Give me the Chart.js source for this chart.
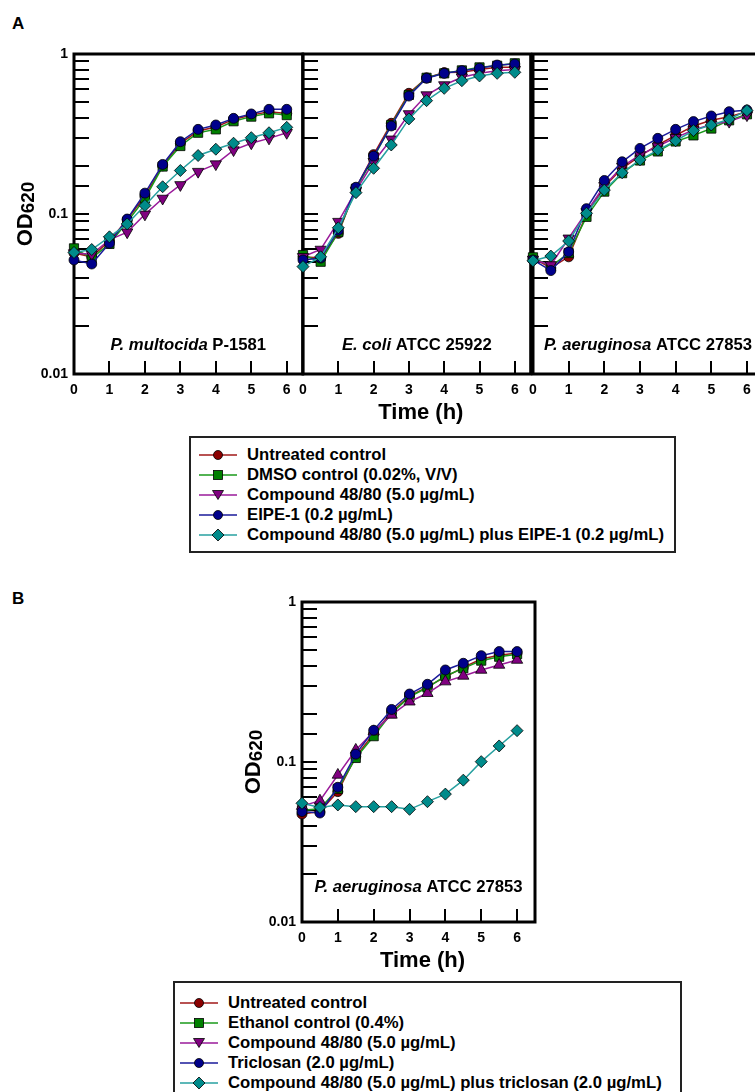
<!DOCTYPE html>
<html>
<head>
<meta charset="utf-8">
<script src="https://cdn.jsdelivr.net/npm/chart.js@4.4.1/dist/chart.umd.min.js"></script>
<style>
    html, body { margin: 0; padding: 0; background: #fff; }
    body { width: 755px; height: 1092px; overflow: hidden; position: relative;
           font-family: "Liberation Sans", Arial, sans-serif; color: #000; }
    canvas { position: absolute; }
    .tag { position: absolute; font-weight: bold; font-size: 17px; line-height: 1; }
    .legend { position: absolute; border: 2px solid #222; box-sizing: border-box; }
    .row { display: flex; align-items: center; height: 20px; font-weight: bold;
           font-size: 16.7px; white-space: nowrap; }
    .row svg { flex: none; margin-right: 10px; }
</style>
</head>
<body>
<div class="tag" style="left:12px; top:15px;">A</div>
<div class="tag" style="left:12px; top:590px;">B</div>

<canvas id="chart-pm"></canvas>
<canvas id="chart-ec"></canvas>
<canvas id="chart-pa"></canvas>
<canvas id="chart-tri"></canvas>

<div id="legend-a" class="legend" style="left:189px; top:436px; width:487px; height:117px; padding:7px 0 0 8px;"></div>
<div id="legend-b" class="legend" style="left:173px; top:981px; width:509px; height:130px; padding:10px 0 0 5px;"></div>

<script>
// ---- Data (OD620) -----------------------------------------------------
const hours = [0, 0.5, 1, 1.5, 2, 2.5, 3, 3.5, 4, 4.5, 5, 5.5, 6];

// Panel A: P. multocida P-1581
const pmUntreated = [0.057, 0.054, 0.068, 0.092, 0.130, 0.200, 0.276, 0.330, 0.350, 0.390, 0.415, 0.435, 0.425];
const pmDmso      = [0.061, 0.053, 0.065, 0.089, 0.125, 0.198, 0.266, 0.322, 0.338, 0.380, 0.406, 0.426, 0.415];
const pmCompound  = [0.057, 0.056, 0.069, 0.077, 0.0995, 0.125, 0.152, 0.184, 0.205, 0.251, 0.277, 0.297, 0.322];
const pmEipe      = [0.0516, 0.0487, 0.0656, 0.093, 0.135, 0.204, 0.283, 0.338, 0.360, 0.396, 0.422, 0.451, 0.451];
const pmCombo     = [0.0575, 0.060, 0.072, 0.0866, 0.113, 0.148, 0.187, 0.232, 0.254, 0.277, 0.300, 0.322, 0.348];

// Panel A: E. coli ATCC 25922
const ecUntreated = [0.054, 0.053, 0.0757, 0.145, 0.235, 0.369, 0.568, 0.710, 0.765, 0.770, 0.800, 0.825, 0.825];
const ecDmso      = [0.0554, 0.0503, 0.077, 0.144, 0.225, 0.360, 0.555, 0.710, 0.757, 0.790, 0.825, 0.845, 0.875];
const ecCompound  = [0.054, 0.060, 0.0896, 0.140, 0.212, 0.293, 0.422, 0.554, 0.640, 0.715, 0.757, 0.787, 0.800];
const ecEipe      = [0.0516, 0.053, 0.079, 0.147, 0.230, 0.355, 0.546, 0.705, 0.757, 0.787, 0.815, 0.853, 0.866];
const ecCombo     = [0.0469, 0.054, 0.082, 0.136, 0.193, 0.270, 0.393, 0.511, 0.610, 0.681, 0.729, 0.757, 0.768];

// Panel A: P. aeruginosa ATCC 27853
const paUntreated = [0.053, 0.046, 0.054, 0.100, 0.148, 0.193, 0.230, 0.270, 0.310, 0.355, 0.385, 0.405, 0.435];
const paDmso      = [0.0536, 0.047, 0.057, 0.096, 0.138, 0.180, 0.216, 0.246, 0.284, 0.310, 0.342, 0.385, 0.420];
const paCompound  = [0.052, 0.048, 0.0705, 0.103, 0.150, 0.198, 0.234, 0.265, 0.300, 0.335, 0.363, 0.378, 0.415];
const paEipe      = [0.0516, 0.0443, 0.058, 0.108, 0.162, 0.212, 0.257, 0.297, 0.338, 0.378, 0.410, 0.436, 0.447];
const paCombo     = [0.051, 0.0546, 0.0678, 0.101, 0.141, 0.181, 0.218, 0.251, 0.287, 0.332, 0.360, 0.391, 0.443];

// Panel B: P. aeruginosa ATCC 27853 with triclosan
const triUntreated = [0.0473, 0.049, 0.0653, 0.108, 0.150, 0.205, 0.258, 0.295, 0.340, 0.390, 0.440, 0.465, 0.480];
const triEthanol   = [0.050, 0.051, 0.068, 0.106, 0.145, 0.202, 0.255, 0.292, 0.345, 0.385, 0.430, 0.455, 0.472];
const triCompound  = [0.053, 0.0573, 0.083, 0.119, 0.155, 0.197, 0.238, 0.269, 0.318, 0.345, 0.376, 0.404, 0.434];
const triTriclosan = [0.049, 0.048, 0.0695, 0.112, 0.158, 0.213, 0.266, 0.306, 0.376, 0.414, 0.462, 0.490, 0.490];
const triCombo     = [0.0552, 0.052, 0.0539, 0.0526, 0.0526, 0.0526, 0.0506, 0.0565, 0.063, 0.077, 0.1005, 0.126, 0.157];

const legendNamesA = [
    "Untreated control",
    "DMSO control (0.02%, V/V)",
    "Compound 48/80 (5.0 µg/mL)",
    "EIPE-1 (0.2 µg/mL)",
    "Compound 48/80 (5.0 µg/mL) plus EIPE-1 (0.2 µg/mL)",
];
const legendNamesB = [
    "Untreated control",
    "Ethanol control (0.4%)",
    "Compound 48/80 (5.0 µg/mL)",
    "Triclosan (2.0 µg/mL)",
    "Compound 48/80 (5.0 µg/mL) plus triclosan (2.0 µg/mL)",
];

// ---- Styling ----------------------------------------------------------
const FONT = '"Liberation Sans", Arial, sans-serif';
const fillColors = ["#8b0000", "#008000", "#800080", "#00008b", "#008b8b"];
const lineColors = ["#a01818", "#1a9a1a", "#9a1a9a", "#1a1a9a", "#27a0a0"];
const shapes     = ["circle", "rect", "triangle", "circle", "rectRot"];
const radii      = [5, 6.5, 6.5, 5, 6];

function makeSets(lists, triangleRotation) {
    return lists.map((vals, i) => ({
        data: hours.map((h, k) => ({ x: h, y: vals[k] })),
        borderColor: lineColors[i],
        borderWidth: 1.5,
        pointBackgroundColor: fillColors[i],
        pointBorderColor: "#000",
        pointBorderWidth: 0.8,
        pointStyle: shapes[i],
        pointRadius: radii[i],
        pointRotation: i === 2 ? triangleRotation : 0,
        tension: 0,
        clip: false,
        order: 4 - i,   // teal on top, red at the bottom
    }));
}

// ---- Frame, inward ticks, titles --------------------------------------
const framePlugin = {
    id: "frame",
    beforeDatasetsDraw(chart, args, opts) {
        const { ctx, chartArea: a, scales: { x, y } } = chart;
        ctx.save();
        ctx.strokeStyle = "#000";
        ctx.lineWidth = 2;
        ctx.beginPath();
        y.ticks.forEach((t) => {
            if (t.value <= 0.0101 || t.value >= 0.99) return;
            const py = Math.round(y.getPixelForValue(t.value));
            ctx.moveTo(a.left, py);
            ctx.lineTo(a.left + 15, py);
        });
        x.ticks.forEach((t) => {
            if (t.value <= 0) return;
            const px = Math.round(x.getPixelForValue(t.value));
            ctx.moveTo(px, a.bottom);
            ctx.lineTo(px, a.bottom - 13);
        });
        ctx.stroke();
        ctx.lineWidth = 3;
        ctx.strokeRect(a.left, a.top, a.right - a.left, a.bottom - a.top);
        ctx.restore();
    },
    afterDraw(chart, args, opts) {
        const { ctx, chartArea: a } = chart;
        const cx = (a.left + a.right) / 2;
        ctx.save();
        ctx.fillStyle = "#000";
        ctx.textBaseline = "middle";

        // strain label: italic genus/species + plain strain id
        const [it, rest] = opts.strain;
        ctx.font = "italic bold 16.7px " + FONT;
        const w1 = ctx.measureText(it).width;
        ctx.font = "bold 16.7px " + FONT;
        const w2 = ctx.measureText(rest).width;
        const sx = cx - (w1 + w2) / 2;
        const sy = a.bottom - opts.strainDy;
        ctx.font = "italic bold 16.7px " + FONT;
        ctx.textAlign = "left";
        ctx.fillText(it, sx, sy);
        ctx.font = "bold 16.7px " + FONT;
        ctx.fillText(rest, sx + w1, sy);

        if (opts.xTitle) {
            ctx.font = "bold 22px " + FONT;
            ctx.textAlign = "center";
            ctx.fillText("Time (h)", cx + 4, a.bottom + 39);
        }
        if (opts.yTitle) {
            ctx.translate(a.left - 48, (a.top + a.bottom) / 2);
            ctx.rotate(-Math.PI / 2);
            ctx.font = "bold 22px " + FONT;
            const wOD = ctx.measureText("OD").width;
            ctx.font = "bold 19px " + FONT;
            const wSub = ctx.measureText("620").width;
            const x0 = -(wOD + wSub) / 2;
            ctx.textAlign = "left";
            ctx.font = "bold 22px " + FONT;
            ctx.fillText("OD", x0, 0);
            ctx.font = "bold 19px " + FONT;
            ctx.fillText("620", x0 + wOD, 3);
        }
        ctx.restore();
    },
};

function panelChart(id, box, area, sets, o) {
    const cv = document.getElementById(id);
    cv.width = box.w; cv.height = box.h;
    cv.style.left = box.x + "px"; cv.style.top = box.y + "px";
    cv.style.width = box.w + "px"; cv.style.height = box.h + "px";
    const yW = area.left - box.x;
    const xH = box.y + box.h - area.bottom;
    const near = (a, b) => Math.abs(a - b) < b * 1e-6;
    return new Chart(cv, {
        type: "line",
        data: { datasets: sets },
        options: {
            responsive: false,
            animation: false,
            events: [],
            layout: { padding: { left: 0, top: area.top - box.y, right: box.x + box.w - area.right, bottom: 0 } },
            plugins: {
                legend: { display: false },
                tooltip: { enabled: false },
                frame: { strain: o.strain, strainDy: o.strainDy, xTitle: o.xTitle, yTitle: o.yTitle },
            },
            scales: {
                x: {
                    type: "linear", min: 0, max: o.xMax,
                    afterFit: (s) => { s.height = xH; },
                    grid: { display: false, drawTicks: false },
                    border: { display: false },
                    ticks: { stepSize: 1, includeBounds: false, autoSkip: false, maxRotation: 0,
                             padding: 8, color: "#000", font: { family: FONT, size: 14, weight: "bold" } },
                },
                y: {
                    type: "logarithmic", min: 0.01, max: 1,
                    afterFit: (s) => { s.width = yW; },
                    grid: { display: false, drawTicks: false },
                    border: { display: false },
                    ticks: {
                        display: o.yLabels, autoSkip: false, padding: 6, color: "#000",
                        font: { family: FONT, size: 14, weight: "bold" },
                        callback: (v) => (near(v, 1) ? "1" : near(v, 0.1) ? "0.1" : near(v, 0.01) ? "0.01" : ""),
                    },
                },
            },
        },
        plugins: [framePlugin],
    });
}

panelChart("chart-pm",
    { x: 0, y: 30, w: 310, h: 400 }, { left: 74, top: 54, right: 303, bottom: 374 },
    makeSets([pmUntreated, pmDmso, pmCompound, pmEipe, pmCombo], 180),
    { xMax: 6.45, strain: ["P. multocida", " P-1581"], strainDy: 29, yLabels: true, yTitle: true, xTitle: false });

panelChart("chart-ec",
    { x: 288, y: 30, w: 250, h: 400 }, { left: 303, top: 54, right: 533, bottom: 374 },
    makeSets([ecUntreated, ecDmso, ecCompound, ecEipe, ecCombo], 180),
    { xMax: 6.45, strain: ["E. coli", " ATCC 25922"], strainDy: 29, yLabels: false, yTitle: false, xTitle: true });

panelChart("chart-pa",
    { x: 518, y: 30, w: 260, h: 400 }, { left: 533, top: 54, right: 763, bottom: 374 },
    makeSets([paUntreated, paDmso, paCompound, paEipe, paCombo], 180),
    { xMax: 6.45, strain: ["P. aeruginosa", " ATCC 27853"], strainDy: 29, yLabels: false, yTitle: false, xTitle: false });

panelChart("chart-tri",
    { x: 230, y: 580, w: 320, h: 400 }, { left: 302, top: 602, right: 535, bottom: 922 },
    makeSets([triUntreated, triEthanol, triCompound, triTriclosan, triCombo], 0),
    { xMax: 6.5, strain: ["P. aeruginosa", " ATCC 27853"], strainDy: 35, yLabels: true, yTitle: true, xTitle: true });

// ---- HTML legends -----------------------------------------------------
function markerSvg(i) {
    const f = fillColors[i], s = 'stroke="#000" stroke-width="0.8"';
    let m;
    if (shapes[i] === "circle")        m = `<circle cx="19" cy="8" r="4.5" fill="${f}" ${s}/>`;
    else if (shapes[i] === "rect")     m = `<rect x="14.5" y="3.5" width="9" height="9" fill="${f}" ${s}/>`;
    else if (shapes[i] === "triangle") m = `<polygon points="13.5,3.5 24.5,3.5 19,12.5" fill="${f}" ${s}/>`;
    else                               m = `<polygon points="19,2 25,8 19,14 13,8" fill="${f}" ${s}/>`;
    return `<svg width="38" height="16" viewBox="0 0 38 16">` +
           `<line x1="0" y1="8" x2="38" y2="8" stroke="${lineColors[i]}" stroke-width="1.5"/>${m}</svg>`;
}
function buildLegend(id, names) {
    document.getElementById(id).innerHTML = names
        .map((n, i) => `<div class="row">${markerSvg(i)}<span>${n}</span></div>`)
        .join("");
}
buildLegend("legend-a", legendNamesA);
buildLegend("legend-b", legendNamesB);
</script>
</body>
</html>
